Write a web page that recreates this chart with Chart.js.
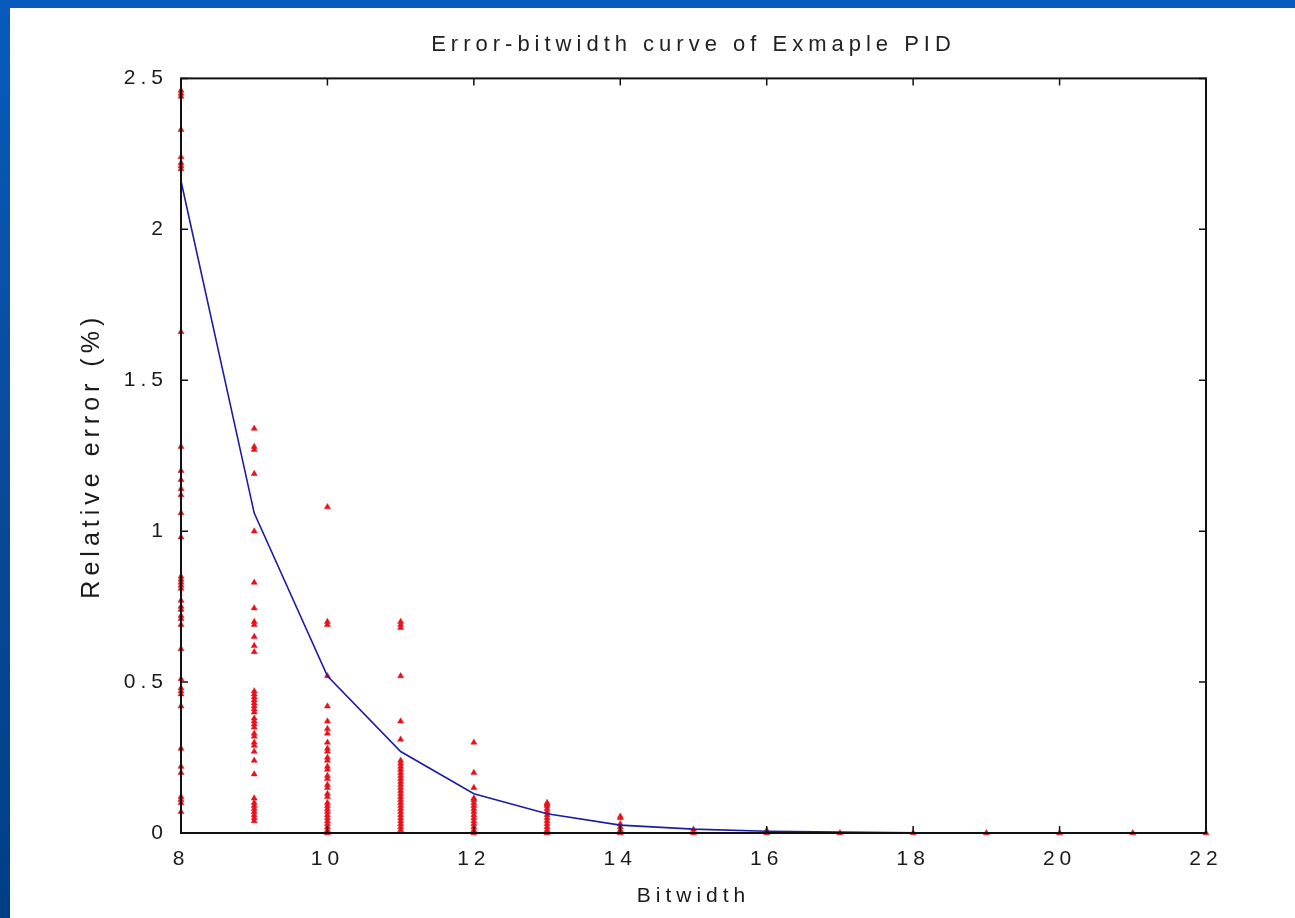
<!DOCTYPE html>
<html>
<head>
<meta charset="utf-8">
<script src="https://cdn.jsdelivr.net/npm/chart.js@4/dist/chart.umd.min.js"></script>
<style>
  html, body { margin: 0; padding: 0; width: 1295px; height: 918px; overflow: hidden; background: #ffffff; }
  #topband { position: absolute; left: 0; top: 0; width: 1295px; height: 8px; background: #075bbd; }
  #leftband { position: absolute; left: 0; top: 0; width: 10px; height: 918px; background: linear-gradient(#075bbd, #0a4a9c 50%, #003f86); }
  #wrap { position: absolute; left: 10px; top: 8px; width: 1285px; height: 910px; background: #ffffff; }
  canvas { display: block; }
</style>
</head>
<body>
<div id="topband"></div>
<div id="leftband"></div>
<div id="wrap"><canvas id="c" width="1285" height="910"></canvas></div>
<script>
// ---- data ----
const bitwidths = [8, 9, 10, 11, 12, 13, 14, 15, 16, 17, 18, 19, 20, 21, 22];
const meanError = [2.16, 1.06, 0.52, 0.27, 0.13, 0.064, 0.026, 0.013, 0.006, 0.003, 0.001, 0.0, 0.0, 0.0, 0.0];

const err8  = [2.46, 2.45, 2.44, 2.33, 2.24, 2.22, 2.21, 2.20, 1.66, 1.28, 1.20, 1.17, 1.14, 1.12, 1.06, 0.98, 0.85, 0.84, 0.83, 0.82, 0.81, 0.77, 0.75, 0.74, 0.72, 0.71, 0.69, 0.61, 0.51, 0.48, 0.47, 0.46, 0.42, 0.28, 0.22, 0.20, 0.12, 0.11, 0.10, 0.07];
const err9  = [1.34, 1.28, 1.27, 1.19, 1.00, 0.83, 0.745, 0.70, 0.69, 0.65, 0.62, 0.60, 0.47, 0.46, 0.45, 0.44, 0.43, 0.42, 0.41, 0.40, 0.38, 0.37, 0.36, 0.35, 0.33, 0.32, 0.30, 0.29, 0.27, 0.24, 0.195, 0.115, 0.10, 0.09, 0.08, 0.07, 0.06, 0.05, 0.04];
const err10 = [1.08, 0.70, 0.69, 0.52, 0.42, 0.37, 0.345, 0.33, 0.30, 0.28, 0.27, 0.25, 0.24, 0.22, 0.21, 0.19, 0.18, 0.16, 0.15, 0.13, 0.12, 0.10, 0.09, 0.08, 0.07, 0.06, 0.05, 0.04, 0.03, 0.02, 0.01, 0.0];
const err11 = [0.70, 0.69, 0.68, 0.52, 0.37, 0.31, 0.24, 0.23, 0.22, 0.21, 0.20, 0.19, 0.18, 0.17, 0.16, 0.15, 0.14, 0.13, 0.12, 0.11, 0.10, 0.09, 0.08, 0.07, 0.06, 0.05, 0.04, 0.03, 0.02, 0.01];
const err12 = [0.30, 0.20, 0.15, 0.115, 0.11, 0.10, 0.09, 0.08, 0.07, 0.06, 0.05, 0.04, 0.03, 0.02, 0.01, 0.0];
const err13 = [0.10, 0.095, 0.09, 0.08, 0.07, 0.06, 0.05, 0.04, 0.03, 0.02, 0.01, 0.0];
const err14 = [0.055, 0.05, 0.03, 0.02, 0.01, 0.0];
const err15 = [0.012, 0.0];
const err16 = [0.008, 0.0];
const err17 = [0.0];
const err18 = [0.0];
const err19 = [0.0];
const err20 = [0.0];
const err21 = [0.0];
const err22 = [0.0];
const samplesByBitwidth = [err8, err9, err10, err11, err12, err13, err14, err15, err16, err17, err18, err19, err20, err21, err22];

const xTicks = [8, 10, 12, 14, 16, 18, 20, 22];
const yTicks = [0, 0.5, 1, 1.5, 2, 2.5];

const titleText = 'Error-bitwidth curve of Exmaple PID';
const xTitle = 'Bitwidth';
const yTitle = 'Relative error (%)';

// ---- build datasets ----
const scatterPoints = [];
samplesByBitwidth.forEach((arr, i) => arr.forEach(v => scatterPoints.push({ x: bitwidths[i], y: v })));
const linePoints = bitwidths.map((b, i) => ({ x: b, y: meanError[i] }));

Chart.defaults.font.family = '"Liberation Sans", Arial, Helvetica, sans-serif';
Chart.defaults.color = '#1a1a1a';

const spacingPlugin = {
  id: 'spacing',
  beforeDraw(chart) { chart.ctx.letterSpacing = '5px'; }
};

const boxPlugin = {
  id: 'matlabBox',
  afterDatasetsDraw(chart) {
    const { ctx, chartArea: a, scales } = chart;
    ctx.save();
    ctx.strokeStyle = '#111111';
    ctx.lineWidth = 1.5;
    const L = 7;
    ctx.beginPath();
    xTicks.forEach(t => {
      const px = scales.x.getPixelForValue(t);
      ctx.moveTo(px, a.bottom); ctx.lineTo(px, a.bottom - L);
      ctx.moveTo(px, a.top); ctx.lineTo(px, a.top + L);
    });
    yTicks.forEach(t => {
      const py = scales.y.getPixelForValue(t);
      ctx.moveTo(a.left, py); ctx.lineTo(a.left + L, py);
      ctx.moveTo(a.right, py); ctx.lineTo(a.right - L, py);
    });
    ctx.stroke();
    ctx.lineWidth = 2;
    ctx.strokeRect(a.left, a.top, a.right - a.left, a.bottom - a.top);
    ctx.restore();
  }
};

new Chart(document.getElementById('c'), {
  type: 'scatter',
  data: {
    datasets: [
      {
        label: 'mean',
        data: linePoints,
        showLine: true,
        borderColor: '#1c1ca6',
        borderWidth: 1.6,
        pointRadius: 0,
        tension: 0,
        order: 1
      },
      {
        label: 'samples',
        data: scatterPoints,
        pointStyle: 'triangle',
        pointRadius: 3.5,
        backgroundColor: '#e8101a',
        borderColor: '#e8101a',
        borderWidth: 0.5,
        order: 2
      }
    ]
  },
  options: {
    responsive: false,
    animation: false,
    clip: false,
    layout: { padding: { left: 0, right: 89, top: 0, bottom: 0 } },
    plugins: {
      legend: { display: false },
      tooltip: { enabled: false },
      title: {
        display: true,
        text: titleText,
        fullSize: false,
        color: '#222222',
        font: { size: 22, weight: 'normal' },
        padding: { top: 24, bottom: 20 }
      }
    },
    scales: {
      x: {
        type: 'linear',
        min: 8, max: 22,
        grid: { display: false },
        border: { display: false },
        afterBuildTicks(s) { s.ticks = xTicks.map(v => ({ value: v })); },
        afterFit(s) { s.height = 85; },
        ticks: { color: '#1a1a1a', font: { size: 21 }, padding: 6, maxRotation: 0, autoSkip: false, callback: v => String(v) },
        title: { display: true, text: xTitle, color: '#1a1a1a', font: { size: 21 }, padding: { top: 0, bottom: 9 } }
      },
      y: {
        min: 0, max: 2.5,
        grid: { display: false },
        border: { display: false },
        afterBuildTicks(s) { s.ticks = yTicks.map(v => ({ value: v })); },
        afterFit(s) { s.width = 171; },
        ticks: { color: '#1a1a1a', font: { size: 21 }, padding: 5, callback: v => String(v) },
        title: { display: true, text: yTitle, color: '#1a1a1a', font: { size: 25 }, padding: { top: 67, bottom: 0 } }
      }
    }
  },
  plugins: [spacingPlugin, boxPlugin]
});
</script>
</body>
</html>
